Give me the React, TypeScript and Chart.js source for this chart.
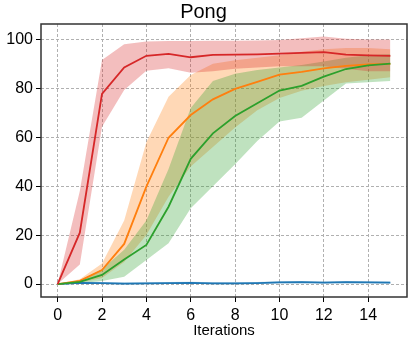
import React, { useEffect, useRef } from "react";
import { Chart, registerables } from "chart.js";

Chart.register(...registerables);

const iterations = [0, 1, 2, 3, 4, 5, 6, 7, 8, 9, 10, 11, 12, 13, 14, 15];
const xTicks = [0, 2, 4, 6, 8, 10, 12, 14];
const yTicks = [0, 20, 40, 60, 80, 100];

const redMean = [0, 21, 77.7, 88.5, 93.3, 94.1, 92.7, 93.7, 93.8, 93.9, 94.2, 94.5, 94.8, 93.8, 93.5, 93.3];
const redLower = [0, 8, 64.3, 79.3, 87.2, 88.2, 86.4, 87, 88, 88.5, 89, 89, 89, 88, 87, 87];
const redUpper = [0, 38, 91.6, 98, 99.1, 99.3, 99.3, 99.5, 99.5, 99.6, 99.8, 100.5, 101.2, 100.3, 100, 100];

const orangeMean = [0, 1.3, 5.7, 16.4, 39.8, 59.8, 69.1, 75.5, 79.8, 82.6, 85.6, 86.7, 88.2, 89.2, 89.8, 90];
const orangeLower = [0, 0.5, 2.5, 9, 20, 35.7, 48, 56, 64, 71, 76, 79, 81, 82.5, 83.5, 84.5];
const orangeUpper = [0, 2, 8.4, 26, 58, 76.6, 85.5, 90, 91.5, 92.5, 93.5, 95, 96, 96.5, 96.5, 96];

const greenMean = [0, 0.9, 3.7, 10, 16, 31.6, 51.2, 61.6, 68.7, 73.9, 79.1, 81, 84.8, 87.9, 89.4, 90.1];
const greenLower = [0, 0.3, 1.2, 3, 9.8, 16.7, 31, 40, 49, 58.5, 66.4, 68, 75, 82, 82.5, 83];
const greenUpper = [0, 1.5, 6, 14, 26, 47, 72, 83, 86, 87.5, 88.5, 89.5, 91, 92.5, 93.5, 94];

const blueMean = [0, 0.5, 0.4, 0.2, 0.3, 0.4, 0.5, 0.3, 0.3, 0.4, 0.7, 0.8, 0.6, 0.8, 0.7, 0.6];
const blueLower = [0, 0.1, 0.0, -0.2, -0.1, 0.0, 0.1, -0.1, -0.1, 0.0, 0.3, 0.4, 0.2, 0.4, 0.3, 0.2];
const blueUpper = [0, 0.9, 0.8, 0.6, 0.7, 0.8, 0.9, 0.7, 0.7, 0.8, 1.1, 1.2, 1.0, 1.2, 1.1, 1.0];

const FONT = "'Liberation Sans', Arial, sans-serif";

const pts = (arr: number[]) => iterations.map((x, i) => ({ x, y: arr[i] }));

const framePlugin = {
  id: "frame",
  afterDraw(chart: any) {
    const { ctx, chartArea: a } = chart;
    ctx.save();
    ctx.strokeStyle = "#333";
    ctx.lineWidth = 1.5;
    ctx.strokeRect(a.left, a.top, a.right - a.left, a.bottom - a.top);
    ctx.restore();
  },
};

export default function App() {
  const ref = useRef<HTMLCanvasElement>(null);

  useEffect(() => {
    if (!ref.current) return;
    const series = [
      { color: "#d62728", fill: "rgba(214,39,40,0.3)", mean: redMean, lower: redLower, upper: redUpper },
      { color: "#2ca02c", fill: "rgba(44,160,44,0.3)", mean: greenMean, lower: greenLower, upper: greenUpper },
      { color: "#ff7f0e", fill: "rgba(255,127,14,0.3)", mean: orangeMean, lower: orangeLower, upper: orangeUpper },
      { color: "#1f77b4", fill: "rgba(31,119,180,0.3)", mean: blueMean, lower: blueLower, upper: blueUpper },
    ];
    const datasets: any[] = [];
    series.forEach((s) => {
      datasets.push({
        data: pts(s.mean),
        borderColor: s.color,
        borderWidth: 1.8,
        pointRadius: 0,
        fill: false,
        tension: 0,
        order: 0,
      });
    });
    series.forEach((s) => {
      datasets.push({
        data: pts(s.lower),
        borderColor: "rgba(0,0,0,0)",
        borderWidth: 0,
        pointRadius: 0,
        fill: false,
        order: 1,
      });
      datasets.push({
        data: pts(s.upper),
        borderColor: "rgba(0,0,0,0)",
        borderWidth: 0,
        pointRadius: 0,
        fill: "-1",
        backgroundColor: s.fill,
        order: 1,
      });
    });

    const gridOpts = {
      color: "#b0b0b0",
      lineWidth: 1,
      tickColor: "#000",
      tickLength: 5,
      tickWidth: 1,
      tickBorderDash: [],
    };

    const chart = new Chart(ref.current, {
      type: "line",
      data: { datasets },
      plugins: [framePlugin],
      options: {
        animation: false,
        responsive: false,
        devicePixelRatio: 1,
        layout: { padding: { left: 0, right: 4, top: 0, bottom: 0 } },
        plugins: {
          legend: { display: false },
          tooltip: { enabled: false },
          filler: { drawTime: "beforeDatasetsDraw" },
          title: {
            display: true,
            text: "Pong",
            color: "#000",
            font: { family: FONT, size: 20, weight: "normal" },
            padding: { top: 0, bottom: 0 },
          },
        } as any,
        scales: {
          x: {
            type: "linear",
            min: -0.75,
            max: 15.75,
            afterBuildTicks: (s: any) => {
              s.ticks = xTicks.map((v) => ({ value: v }));
            },
            afterFit: (s: any) => {
              s.height = 42;
            },
            grid: gridOpts,
            border: { display: false, dash: [3, 2] },
            ticks: {
              color: "#000",
              font: { family: FONT, size: 16 },
              padding: 4,
              maxRotation: 0,
              autoSkip: false,
            },
            title: {
              display: true,
              text: "Iterations",
              color: "#000",
              font: { family: FONT, size: 15 },
              padding: { top: 0, bottom: -1 },
            },
          },
          y: {
            type: "linear",
            min: -5.3,
            max: 106.3,
            afterBuildTicks: (s: any) => {
              s.ticks = yTicks.map((v) => ({ value: v }));
            },
            afterFit: (s: any) => {
              s.width = 41;
            },
            grid: gridOpts,
            border: { display: false, dash: [3, 2] },
            ticks: {
              color: "#000",
              font: { family: FONT, size: 16 },
              padding: 3,
              autoSkip: false,
            },
          },
        } as any,
      },
    });
    return () => chart.destroy();
  }, []);

  return (
    <div style={{ position: "absolute", left: 0, top: 0, width: 411, height: 339 }}>
      <canvas ref={ref} width={411} height={339} style={{ display: "block" }} />
    </div>
  );
}
